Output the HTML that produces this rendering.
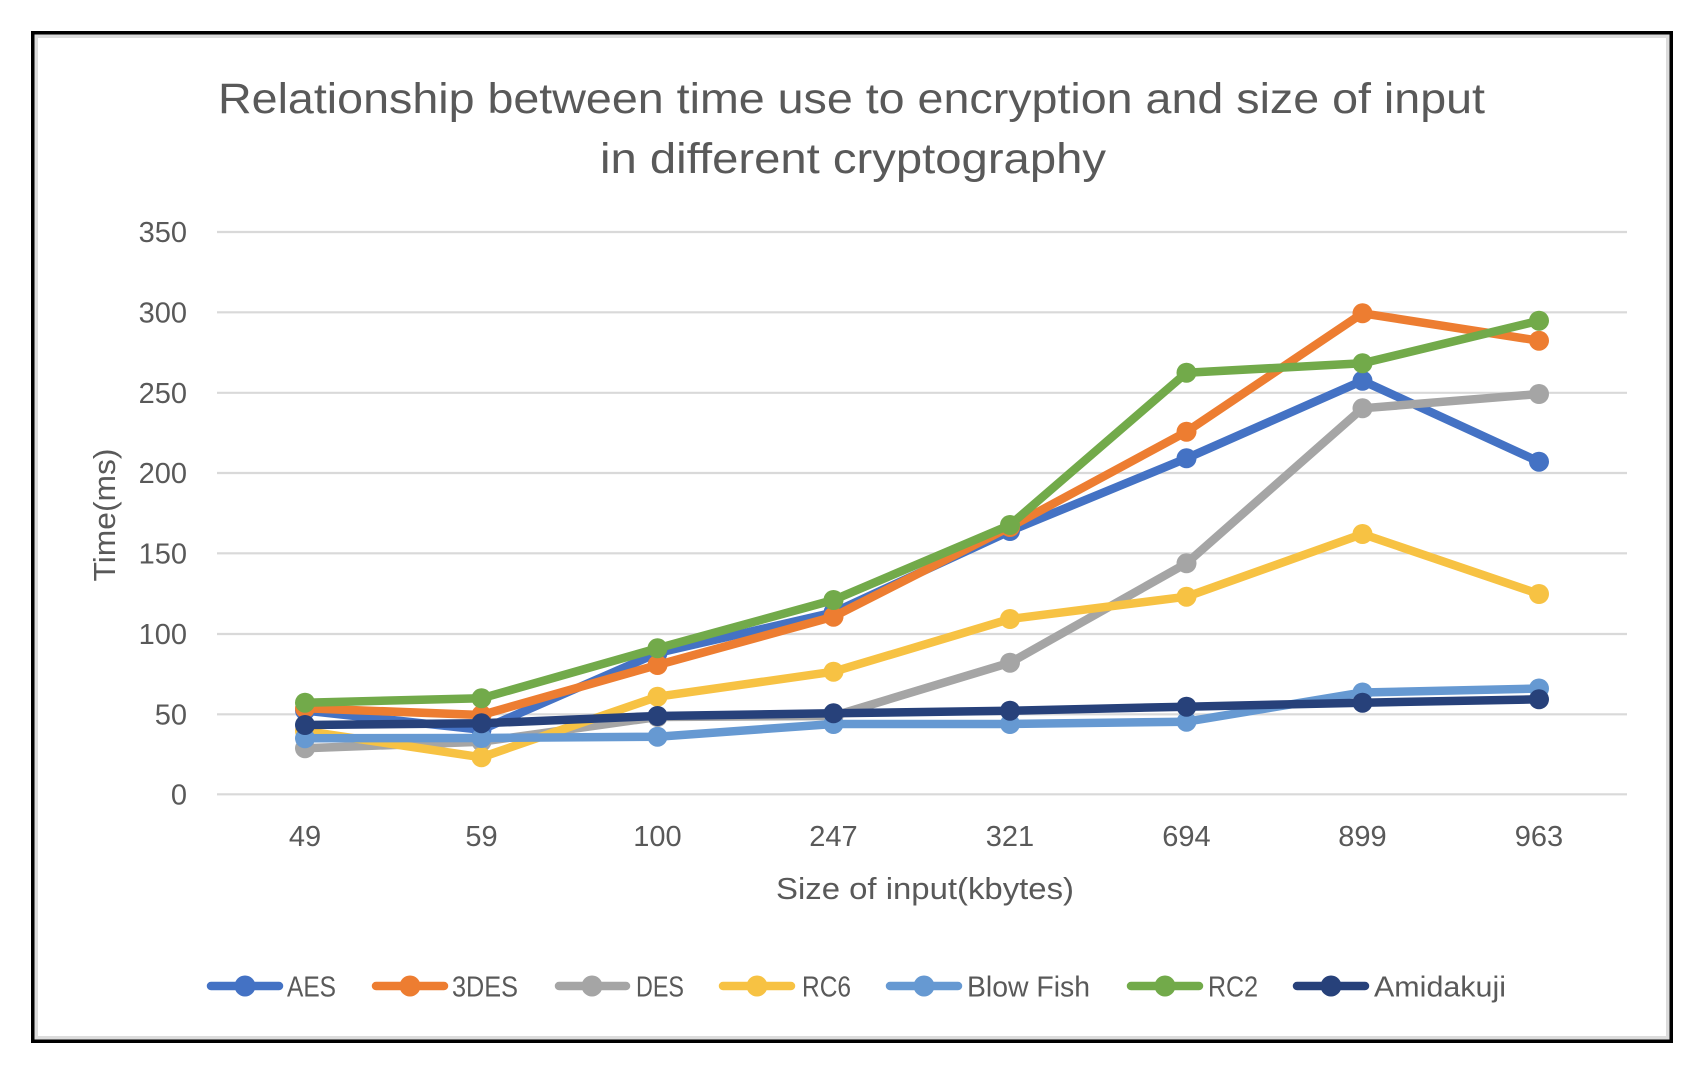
<!DOCTYPE html>
<html>
<head>
<meta charset="utf-8">
<style>
  html, body { margin:0; padding:0; background:#ffffff; }
  svg { display:block; }
  text { font-family: "Liberation Sans", Arial, sans-serif; fill:#595959; }
</style>
</head>
<body>
<svg width="1702" height="1070" viewBox="0 0 1702 1070" xmlns="http://www.w3.org/2000/svg">
  <rect x="0" y="0" width="1702" height="1070" fill="#ffffff"/>
  <!-- frame -->
  <rect x="32.75" y="32.75" width="1638.5" height="1008.5" fill="none" stroke="#000000" stroke-width="3.5"/>
  <rect x="36.25" y="36.25" width="1631.5" height="1001.5" fill="none" stroke="#dcdcdc" stroke-width="3.5"/>

  <!-- title -->
  <text x="218" y="113" font-size="43" textLength="1267" lengthAdjust="spacingAndGlyphs">Relationship between time use to encryption and size of input</text>
  <text x="600" y="173" font-size="43" textLength="506" lengthAdjust="spacingAndGlyphs">in different cryptography</text>

  <!-- gridlines -->
  <g stroke="#d9d9d9" stroke-width="2.2">
    <line x1="217" y1="232" x2="1627" y2="232"/>
    <line x1="217" y1="312.3" x2="1627" y2="312.3"/>
    <line x1="217" y1="392.8" x2="1627" y2="392.8"/>
    <line x1="217" y1="473" x2="1627" y2="473"/>
    <line x1="217" y1="553.3" x2="1627" y2="553.3"/>
    <line x1="217" y1="634" x2="1627" y2="634"/>
    <line x1="217" y1="714.3" x2="1627" y2="714.3"/>
    <line x1="217" y1="794.3" x2="1627" y2="794.3"/>
  </g>

  <!-- y tick labels -->
  <g font-size="29" text-anchor="end">
    <text x="187" y="242">350</text>
    <text x="187" y="322.5">300</text>
    <text x="187" y="403">250</text>
    <text x="187" y="483">200</text>
    <text x="187" y="563.5">150</text>
    <text x="187" y="644">100</text>
    <text x="187" y="724.5">50</text>
    <text x="187" y="804.5">0</text>
  </g>

  <!-- x tick labels -->
  <g font-size="29" text-anchor="middle">
    <text x="305" y="846">49</text>
    <text x="481.5" y="846">59</text>
    <text x="657.5" y="846">100</text>
    <text x="833.5" y="846">247</text>
    <text x="1010" y="846">321</text>
    <text x="1186.5" y="846">694</text>
    <text x="1362.5" y="846">899</text>
    <text x="1539" y="846">963</text>
  </g>

  <!-- axis titles -->
  <text transform="translate(115,515) rotate(-90)" x="0" y="0" font-size="31" text-anchor="middle" textLength="133" lengthAdjust="spacingAndGlyphs">Time(ms)</text>
  <text x="925" y="899" font-size="31" text-anchor="middle" textLength="298" lengthAdjust="spacingAndGlyphs">Size of input(kbytes)</text>

  <!-- series -->
  <g fill="none" stroke-width="8.5" stroke-linejoin="round" stroke-linecap="round">
    <!-- AES -->
    <polyline stroke="#4472C4" points="305,710.5 481.5,729.8 657.5,653 833.5,612.5 1010,531 1186.5,458.3 1362.5,380.7 1539,461.7"/>
    <g fill="#4472C4" stroke="none">
      <circle cx="305" cy="710.5" r="10"/><circle cx="481.5" cy="729.8" r="10"/><circle cx="657.5" cy="653" r="10"/><circle cx="833.5" cy="612.5" r="10"/>
      <circle cx="1010" cy="531" r="10"/><circle cx="1186.5" cy="458.3" r="10"/><circle cx="1362.5" cy="380.7" r="10"/><circle cx="1539" cy="461.7" r="10"/>
    </g>
    <!-- 3DES -->
    <polyline stroke="#ED7D31" points="305,708.3 481.5,715 657.5,665 833.5,616.7 1010,527 1186.5,431.7 1362.5,313.3 1539,340.7"/>
    <g fill="#ED7D31" stroke="none">
      <circle cx="305" cy="708.3" r="10"/><circle cx="481.5" cy="715" r="10"/><circle cx="657.5" cy="665" r="10"/><circle cx="833.5" cy="616.7" r="10"/>
      <circle cx="1010" cy="527" r="10"/><circle cx="1186.5" cy="431.7" r="10"/><circle cx="1362.5" cy="313.3" r="10"/><circle cx="1539" cy="340.7" r="10"/>
    </g>
    <!-- DES -->
    <polyline stroke="#A5A5A5" points="305,748.3 481.5,741.7 657.5,717 833.5,716 1010,662.7 1186.5,563.3 1362.5,408.3 1539,394"/>
    <g fill="#A5A5A5" stroke="none">
      <circle cx="305" cy="748.3" r="10"/><circle cx="481.5" cy="741.7" r="10"/><circle cx="657.5" cy="717" r="10"/><circle cx="833.5" cy="716" r="10"/>
      <circle cx="1010" cy="662.7" r="10"/><circle cx="1186.5" cy="563.3" r="10"/><circle cx="1362.5" cy="408.3" r="10"/><circle cx="1539" cy="394" r="10"/>
    </g>
    <!-- RC6 -->
    <polyline stroke="#F7C243" points="305,731 481.5,757.3 657.5,696.7 833.5,671.7 1010,619 1186.5,596.7 1362.5,534 1539,594"/>
    <g fill="#F7C243" stroke="none">
      <circle cx="305" cy="731" r="10"/><circle cx="481.5" cy="757.3" r="10"/><circle cx="657.5" cy="696.7" r="10"/><circle cx="833.5" cy="671.7" r="10"/>
      <circle cx="1010" cy="619" r="10"/><circle cx="1186.5" cy="596.7" r="10"/><circle cx="1362.5" cy="534" r="10"/><circle cx="1539" cy="594" r="10"/>
    </g>
    <!-- Blow Fish -->
    <polyline stroke="#6699D2" points="305,738.3 481.5,738 657.5,736.7 833.5,724 1010,724 1186.5,721.7 1362.5,692.5 1539,688.5"/>
    <g fill="#6699D2" stroke="none">
      <circle cx="305" cy="738.3" r="10"/><circle cx="481.5" cy="738" r="10"/><circle cx="657.5" cy="736.7" r="10"/><circle cx="833.5" cy="724" r="10"/>
      <circle cx="1010" cy="724" r="10"/><circle cx="1186.5" cy="721.7" r="10"/><circle cx="1362.5" cy="692.5" r="10"/><circle cx="1539" cy="688.5" r="10"/>
    </g>
    <!-- RC2 -->
    <polyline stroke="#72AA4A" points="305,702.7 481.5,698.3 657.5,648.3 833.5,600 1010,525 1186.5,372.7 1362.5,363.3 1539,320.7"/>
    <g fill="#72AA4A" stroke="none">
      <circle cx="305" cy="702.7" r="10"/><circle cx="481.5" cy="698.3" r="10"/><circle cx="657.5" cy="648.3" r="10"/><circle cx="833.5" cy="600" r="10"/>
      <circle cx="1010" cy="525" r="10"/><circle cx="1186.5" cy="372.7" r="10"/><circle cx="1362.5" cy="363.3" r="10"/><circle cx="1539" cy="320.7" r="10"/>
    </g>
    <!-- Amidakuji -->
    <polyline stroke="#27417A" points="305,725 481.5,723.3 657.5,716 833.5,713.3 1010,710.7 1186.5,706.7 1362.5,702.7 1539,699.3"/>
    <g fill="#27417A" stroke="none">
      <circle cx="305" cy="725" r="10"/><circle cx="481.5" cy="723.3" r="10"/><circle cx="657.5" cy="716" r="10"/><circle cx="833.5" cy="713.3" r="10"/>
      <circle cx="1010" cy="710.7" r="10"/><circle cx="1186.5" cy="706.7" r="10"/><circle cx="1362.5" cy="702.7" r="10"/><circle cx="1539" cy="699.3" r="10"/>
    </g>
  </g>

  <!-- legend -->
  <g stroke-width="8.5" stroke-linecap="round">
    <line x1="211" y1="986" x2="279" y2="986" stroke="#4472C4"/>
    <line x1="376" y1="986" x2="444" y2="986" stroke="#ED7D31"/>
    <line x1="559" y1="986" x2="626" y2="986" stroke="#A5A5A5"/>
    <line x1="723" y1="986" x2="791" y2="986" stroke="#F7C243"/>
    <line x1="890" y1="986" x2="958" y2="986" stroke="#6699D2"/>
    <line x1="1131" y1="986" x2="1199" y2="986" stroke="#72AA4A"/>
    <line x1="1297" y1="986" x2="1365" y2="986" stroke="#27417A"/>
  </g>
  <g stroke="none">
    <circle cx="245" cy="986" r="10.5" fill="#4472C4"/>
    <circle cx="410" cy="986" r="10.5" fill="#ED7D31"/>
    <circle cx="592" cy="986" r="10.5" fill="#A5A5A5"/>
    <circle cx="757" cy="986" r="10.5" fill="#F7C243"/>
    <circle cx="924" cy="986" r="10.5" fill="#6699D2"/>
    <circle cx="1165" cy="986" r="10.5" fill="#72AA4A"/>
    <circle cx="1331" cy="986" r="10.5" fill="#27417A"/>
  </g>
  <g font-size="29">
    <text x="287" y="996.5" textLength="49" lengthAdjust="spacingAndGlyphs">AES</text>
    <text x="452" y="996.5" textLength="66" lengthAdjust="spacingAndGlyphs">3DES</text>
    <text x="636" y="996.5" textLength="48" lengthAdjust="spacingAndGlyphs">DES</text>
    <text x="802" y="996.5" textLength="49" lengthAdjust="spacingAndGlyphs">RC6</text>
    <text x="967" y="996.5" textLength="123" lengthAdjust="spacingAndGlyphs">Blow Fish</text>
    <text x="1208" y="996.5" textLength="50" lengthAdjust="spacingAndGlyphs">RC2</text>
    <text x="1374" y="996.5" textLength="132" lengthAdjust="spacingAndGlyphs">Amidakuji</text>
  </g>
</svg>
</body>
</html>
